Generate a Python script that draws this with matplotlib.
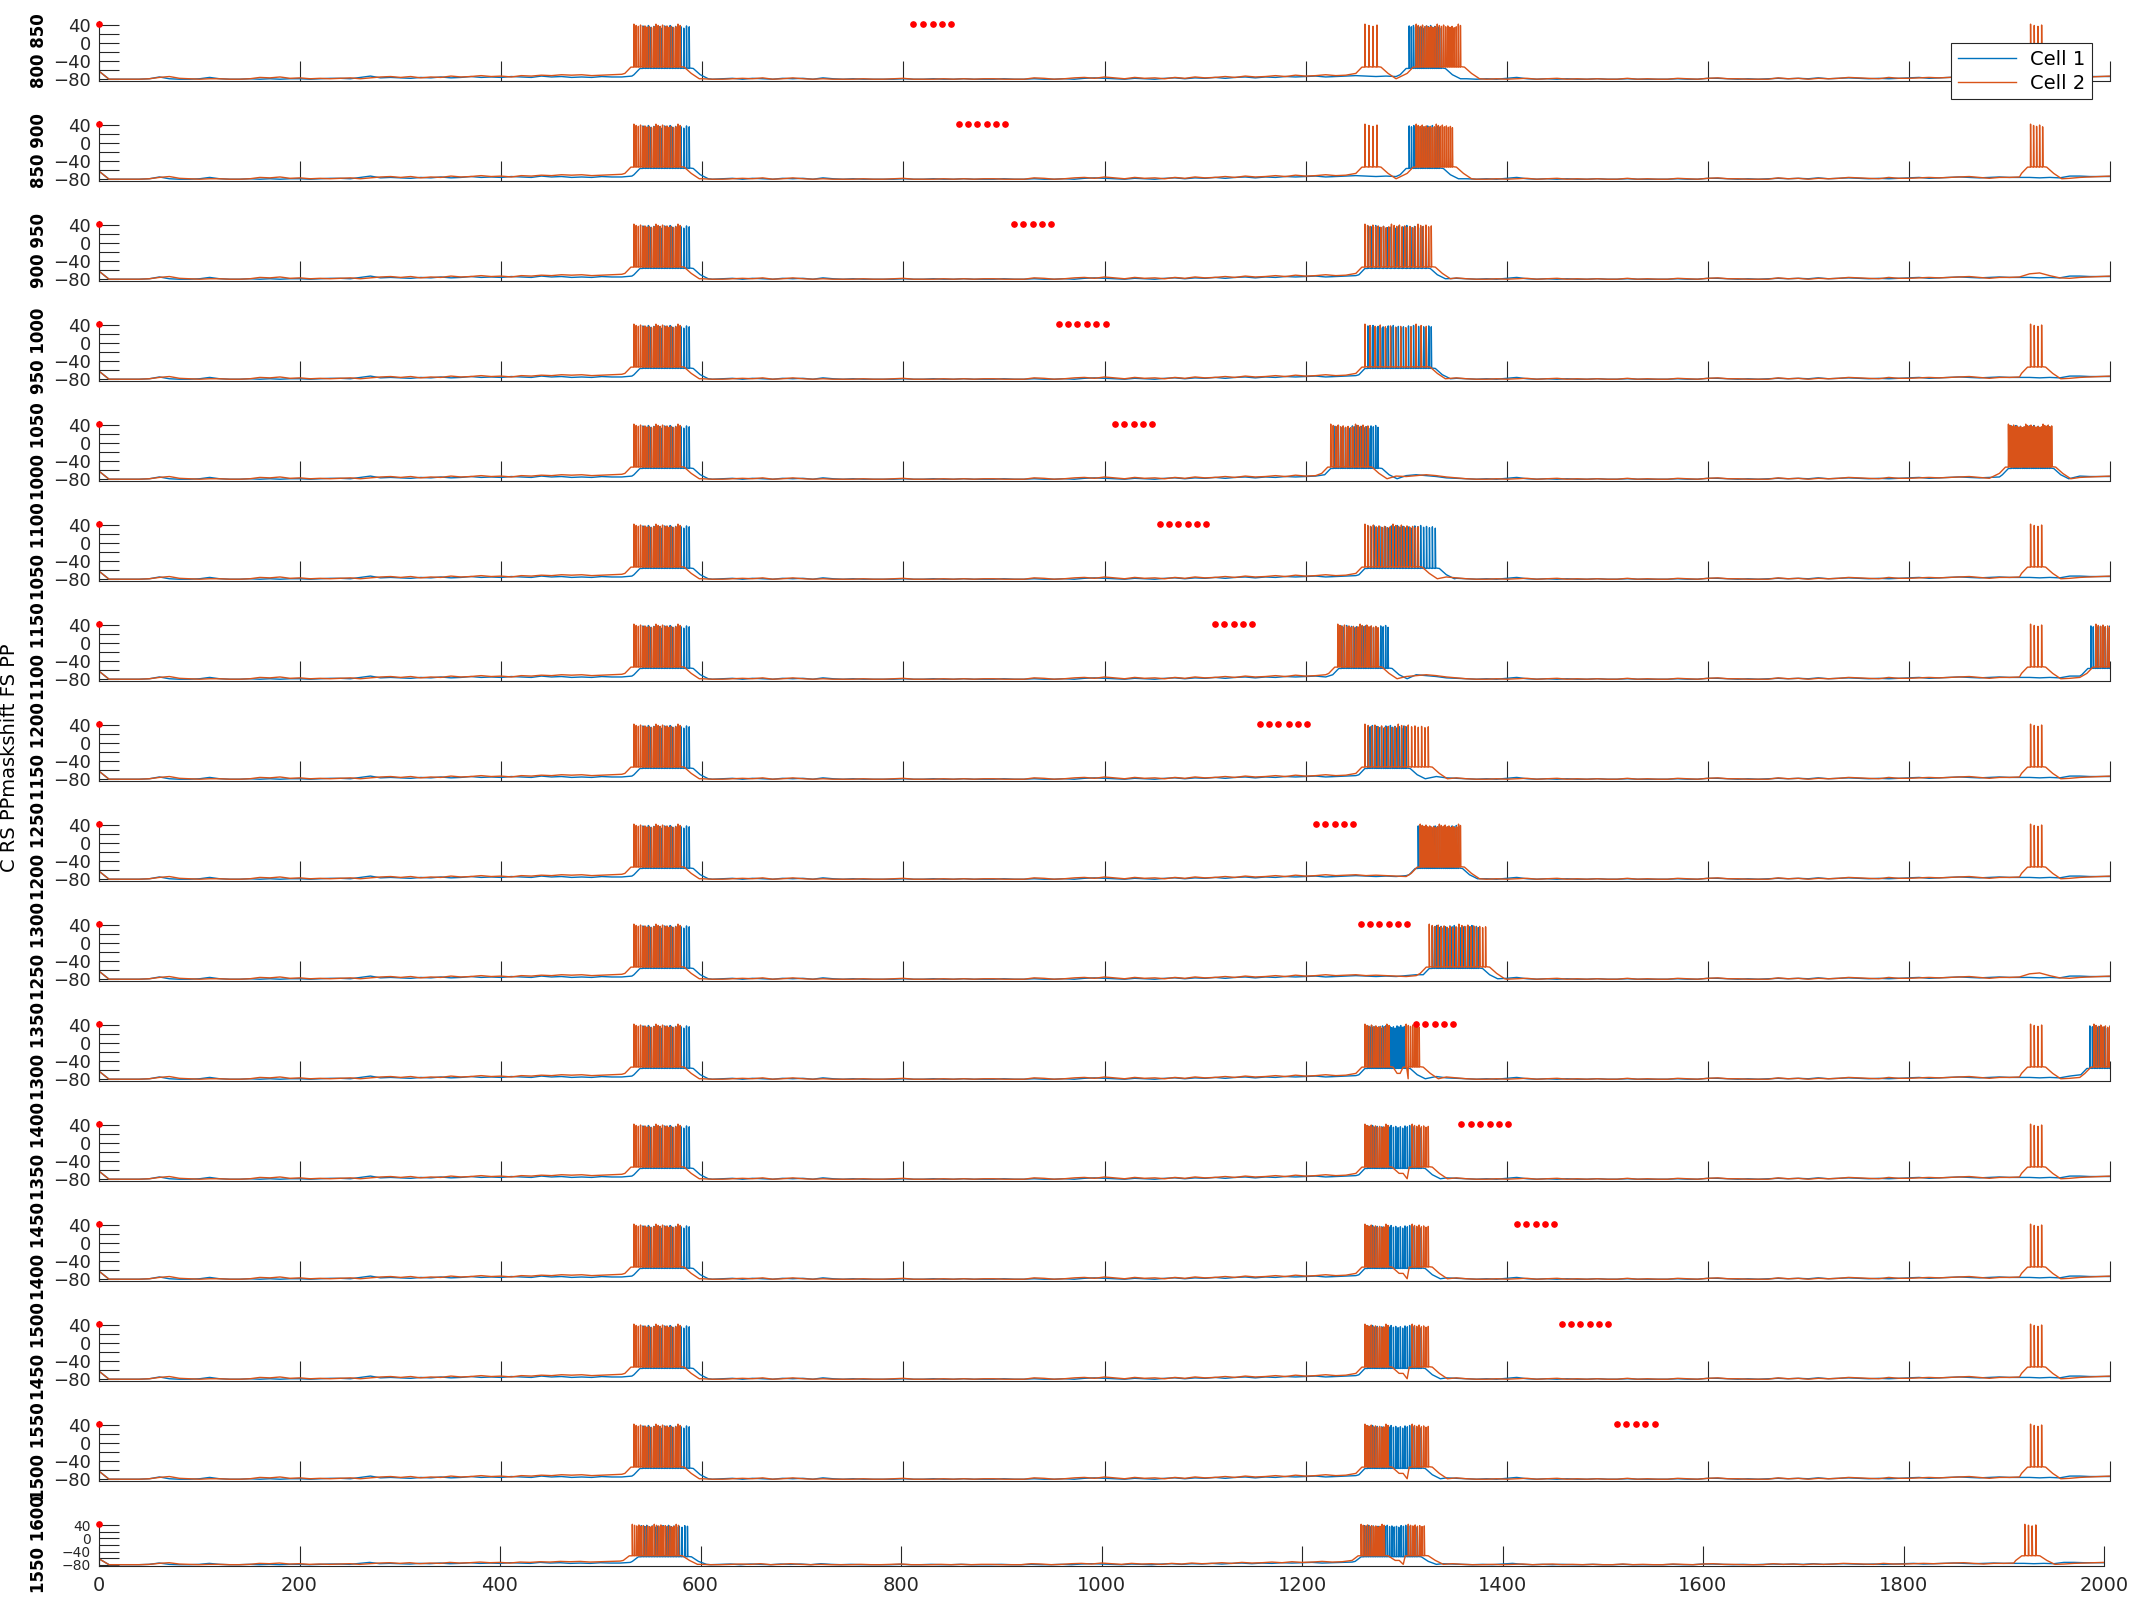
import numpy as np
import matplotlib.pyplot as plt

BLUE = '#0072BD'
ORANGE = '#D95319'
INK = '#262626'

# resting traces, one value every 10 ms from 0 to 2000 ms (mV)
base_t = np.arange(0, 2001, 10)
base_c1 = [-62, -80, -80, -80, -80, -79, -75, -79, -80, -80,
           -79, -76, -79, -80, -80, -79, -80, -79, -80, -79,
           -79, -80, -79, -78, -78, -79, -76, -73, -77, -76,
           -77, -78, -76, -77, -75, -77, -76, -74, -76, -75,
           -76, -74, -75, -76, -73, -75, -74, -76, -75, -76,
           -74, -75, -75, -73, -62, -58, -58, -58, -60, -70,
           -79, -80, -79, -78, -80, -78, -79, -80, -78, -79,
           -78, -80, -77, -79, -80, -79, -80, -80, -80, -80,
           -79, -80, -80, -79, -80, -80, -79, -80, -80, -80,
           -79, -80, -80, -79, -80, -80, -79, -80, -78, -77,
           -78, -79, -80, -78, -79, -80, -78, -77, -79, -77,
           -78, -76, -78, -76, -75, -77, -75, -76, -74, -75,
           -74, -73, -75, -74, -73, -72, -73, -74, -73, -74,
           -72, -70, -72, -74, -77, -78, -79, -80, -79, -80,
           -78, -76, -79, -80, -79, -80, -79, -80, -80, -79,
           -80, -80, -79, -80, -80, -80, -80, -79, -80, -80,
           -78, -78, -79, -80, -79, -80, -79, -78, -79, -78,
           -79, -77, -79, -78, -77, -78, -79, -78, -79, -78,
           -77, -76, -78, -77, -76, -75, -76, -77, -76, -75,
           -76, -76, -76, -77, -76, -77, -73, -73, -74, -74,
           -74]
base_c2 = [-62, -80, -80, -80, -80, -79, -76, -74, -78, -79,
           -80, -79, -79, -80, -80, -79, -76, -77, -75, -78,
           -77, -79, -78, -79, -78, -77, -79, -77, -75, -74,
           -76, -74, -77, -75, -76, -73, -75, -74, -72, -74,
           -73, -75, -72, -73, -71, -72, -70, -71, -70, -72,
           -71, -70, -69, -66, -55, -54, -54, -55, -58, -70,
           -79, -80, -80, -79, -78, -79, -77, -80, -79, -77,
           -79, -80, -79, -80, -80, -80, -79, -80, -80, -79,
           -78, -80, -80, -80, -79, -80, -79, -80, -79, -79,
           -80, -80, -80, -77, -78, -80, -79, -77, -76, -78,
           -75, -77, -79, -76, -78, -77, -79, -76, -78, -75,
           -77, -76, -74, -76, -73, -75, -74, -72, -74, -71,
           -73, -72, -70, -72, -71, -70, -72, -71, -72, -73,
           -74, -72, -70, -72, -75, -77, -79, -80, -80, -79,
           -80, -79, -78, -80, -79, -78, -80, -79, -80, -79,
           -80, -80, -78, -80, -79, -80, -80, -78, -79, -80,
           -78, -77, -79, -79, -80, -80, -80, -77, -79, -78,
           -80, -78, -79, -78, -76, -77, -78, -79, -76, -78,
           -78, -77, -76, -77, -76, -75, -74, -76, -78, -76,
           -76, -75, -68, -66, -72, -77, -78, -76, -75, -74,
           -73]

plateau_c1 = -56
plateau_c2 = -53
peaks_c1 = [39, 37, 40, 36, 38, 35, 37, 34]
peaks_c2 = [43, 40, 38, 41, 37, 39, 36, 38, 35, 37]

# spiking episodes per panel: (start ms, end ms, number of spikes)
burst_a_c1 = (541, 587, 18)
burst_a_c2 = (532, 578, 22)
late_c1 = [
    [(1303, 1335, 16)],
    [(1303, 1333, 14)],
    [(1262, 1320, 16)],
    [(1262, 1325, 26)],
    [(1228, 1272, 20), (1902, 1940, 18)],
    [(1262, 1329, 24)],
    [(1236, 1282, 20), (1981, 2000, 9)],
    [(1262, 1300, 18)],
    [(1312, 1352, 20)],
    [(1326, 1372, 22)],
    [(1262, 1300, 22), (1980, 2000, 9)],
    [(1262, 1315, 24)],
    [(1262, 1315, 24)],
    [(1262, 1315, 24)],
    [(1262, 1315, 24)],
    [(1262, 1315, 24)],
]
late_c2 = [
    [(1259, 1271, 4), (1310, 1354, 22), (1921, 1932, 4)],
    [(1259, 1271, 4), (1310, 1346, 19), (1921, 1933, 5)],
    [(1259, 1325, 26)],
    [(1259, 1320, 13), (1921, 1932, 4)],
    [(1225, 1262, 16), (1899, 1942, 26)],
    [(1259, 1312, 20), (1921, 1932, 4)],
    [(1232, 1272, 19), (1921, 1932, 4), (1986, 2000, 7)],
    [(1259, 1322, 20), (1921, 1932, 4)],
    [(1314, 1354, 22), (1921, 1932, 4)],
    [(1323, 1379, 20)],
    [(1259, 1283, 12), (1300, 1313, 7), (1921, 1932, 4), (1984, 2000, 8)],
    [(1259, 1282, 12), (1306, 1322, 8), (1921, 1932, 4)],
    [(1259, 1282, 12), (1306, 1322, 8), (1921, 1932, 4)],
    [(1259, 1282, 12), (1306, 1322, 8), (1921, 1932, 4)],
    [(1259, 1282, 12), (1306, 1322, 8), (1921, 1932, 4)],
    [(1259, 1282, 12), (1306, 1322, 8), (1921, 1932, 4)],
]

red_dots = [
    [810, 819, 829, 838, 847],
    [855, 864, 873, 883, 892, 901],
    [910, 919, 929, 938, 947],
    [955, 964, 973, 983, 992, 1001],
    [1010, 1019, 1029, 1038, 1047],
    [1055, 1064, 1073, 1083, 1092, 1101],
    [1110, 1119, 1129, 1138, 1147],
    [1155, 1164, 1173, 1183, 1192, 1201],
    [1210, 1219, 1229, 1238, 1247],
    [1255, 1264, 1273, 1283, 1292, 1301],
    [1310, 1319, 1329, 1338, 1347],
    [1355, 1364, 1373, 1383, 1392, 1401],
    [1410, 1419, 1429, 1438, 1447],
    [1455, 1464, 1473, 1483, 1492, 1501],
    [1510, 1519, 1529, 1538, 1547],
    [],
]
panel_labels = ['%d %d' % (750 + 50 * k, 800 + 50 * k) for k in range(1, 17)]
side_label = 'C RS PPmaskshift FS PP'
xticks = list(range(0, 2001, 200))


def make_trace(base, bursts, plat, peaks):
    base = np.asarray(base, float)
    keep = np.ones(len(base_t), bool)
    ts, vs = [], []
    for s, e, n in bursts:
        keep &= ~((base_t >= s - 10) & (base_t <= e + 20))
        ts += [s - 9, s - 3]
        vs += [plat - 14, plat]
        for i, sp in enumerate(np.linspace(s, e, n)):
            ts += [sp - 0.15, sp, sp + 0.4]
            vs += [plat, peaks[i % len(peaks)], plat + 1]
        ts += [e + 4, e + 11, e + 19]
        vs += [plat, plat - 14, -79]
    t = np.concatenate([base_t[keep], ts])
    v = np.concatenate([base[keep], vs])
    order = np.argsort(t, kind='stable')
    return t[order], v[order]


W, H = 2133, 1600
fig = plt.figure(figsize=(W / 100, H / 100), dpi=100)
plt.rcParams['font.family'] = ['DejaVu Sans']

x0 = 99
handles = None
for k in range(16):
    if k < 15:
        bot, top, right = 81 + 100 * k, 21 + 100 * k, 2110
    else:
        bot, top, right = 1566, 1522, 2104
    ax = fig.add_axes([x0 / W, 1 - bot / H, (right - x0) / W, (bot - top) / H])
    t1, v1 = make_trace(base_c1, [burst_a_c1] + late_c1[k], plateau_c1, peaks_c1)
    t2, v2 = make_trace(base_c2, [burst_a_c2] + late_c2[k], plateau_c2, peaks_c2)
    l1, = ax.plot(t1, v1, color=BLUE, lw=1.0)
    l2, = ax.plot(t2, v2, color=ORANGE, lw=1.0)
    if handles is None:
        handles = [l1, l2]
    ax.plot([0], [43], 'o', color='red', ms=3.8, clip_on=False, zorder=5)
    if red_dots[k]:
        ax.plot(red_dots[k], [43] * len(red_dots[k]), 'o', color='red', ms=3.8,
                clip_on=False, zorder=5)
    ax.set_xlim(0, 2000)
    ax.set_ylim(-84, 50)
    ax.set_yticks([-80, -60, -40, -20, 0, 20, 40])
    ax.set_yticklabels(['\u221280', '', '\u221240', '', '0', '', '40'])
    ax.set_xticks(xticks)
    if k == 15:
        ax.set_xticklabels([str(x) for x in xticks])
    else:
        ax.set_xticklabels([])
    ax.tick_params(axis='both', direction='in', length=14.4, width=0.8, color=INK)
    ax.tick_params(axis='y', labelsize=13 if k < 15 else 10, labelcolor=INK, pad=6)
    ax.tick_params(axis='x', labelsize=14, labelcolor=INK, pad=7)
    for side in ['top', 'right']:
        ax.spines[side].set_visible(False)
    for side in ['left', 'bottom']:
        ax.spines[side].set_color(INK)
        ax.spines[side].set_linewidth(0.8)
    ax.patch.set_alpha(0)
    fig.text(38.5 / W, 1 - (bot + top) / 2 / H, panel_labels[k], rotation=90,
             ha='center', va='center', fontsize=12, fontweight='bold', color='black')

fig.text(10 / W, 1 - 758 / H, side_label, rotation=90, ha='center', va='center',
         fontsize=14, color='black')

leg = fig.legend(handles, ['Cell 1', 'Cell 2'], loc='upper right',
                 bbox_to_anchor=(2092 / W, 1 - 43 / H), fontsize=14,
                 fancybox=False, framealpha=1, edgecolor=INK,
                 handlelength=3.0, handletextpad=0.7, borderpad=0.35,
                 labelspacing=0.25, borderaxespad=0)
leg.get_frame().set_linewidth(0.8)

fig.savefig('out.png', dpi=100)
